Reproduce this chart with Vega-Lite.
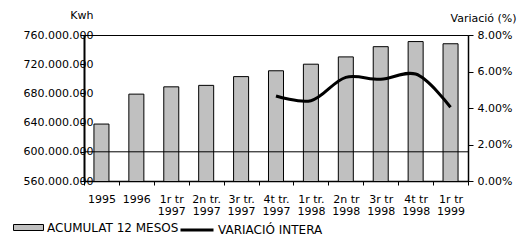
{
  "$schema": "https://vega.github.io/schema/vega-lite/v6.json",
  "width": 384,
  "height": 146,
  "autosize": {"type": "none"},
  "padding": {"left": 84, "top": 35, "right": 53, "bottom": 71},
  "config": {
    "font": "DejaVu Sans",
    "view": {"stroke": "black", "strokeWidth": 1},
    "axis": {"domainColor": "black", "tickColor": "black", "labelColor": "black", "titleColor": "black", "titleFontWeight": "normal", "grid": false, "labelFont": "DejaVu Sans", "titleFont": "DejaVu Sans"},
    "legend": {"labelColor": "black", "labelFont": "DejaVu Sans"}
  },
  "datasets": {
    "series": [
      {"cat": "1995", "kwh": 638000000, "var": null},
      {"cat": "1996", "kwh": 679000000, "var": null},
      {"cat": "1r tr|1997", "kwh": 689000000, "var": null},
      {"cat": "2n tr.|1997", "kwh": 691000000, "var": null},
      {"cat": "3r tr.|1997", "kwh": 703000000, "var": null},
      {"cat": "4t tr.|1997", "kwh": 711000000, "var": 4.66},
      {"cat": "1r tr.|1998", "kwh": 720000000, "var": 4.40},
      {"cat": "2n tr|1998", "kwh": 730000000, "var": 5.68},
      {"cat": "3r tr|1998", "kwh": 744000000, "var": 5.57},
      {"cat": "4t tr|1998", "kwh": 751000000, "var": 5.86},
      {"cat": "1r tr|1999", "kwh": 748000000, "var": 4.04}
    ],
    "grid": [
      {"kwh": 600000000}
    ]
  },
  "layer": [
    {
      "data": {"name": "series"},
      "mark": {"type": "bar", "width": {"band": 0.43}, "stroke": "black", "strokeWidth": 1, "clip": true},
      "encoding": {
        "x": {
          "field": "cat", "type": "nominal", "sort": null,
          "scale": {"paddingInner": 0, "paddingOuter": 0},
          "axis": {
            "title": null, "labelAngle": 0, "tickBand": "extent", "tickSize": 4,
            "labelExpr": "split(datum.label, '|')", "labelPadding": 8, "labelFontSize": 11,
            "labelLineHeight": 12, "labelOverlap": false, "labelBound": false, "domainWidth": 1.5
          }
        },
        "y": {
          "field": "kwh", "type": "quantitative",
          "scale": {"domain": [560000000, 760000000], "zero": false, "nice": false},
          "axis": {
            "values": [560000000, 600000000, 640000000, 680000000, 720000000, 760000000],
            "labelExpr": "replace(format(datum.value, ',d'), regexp(',', 'g'), '.')",
            "tickSize": 4, "labelPadding": -13, "labelFontSize": 11, "domainWidth": 2,
            "title": "Kwh", "titleAngle": 0, "titleX": 9, "titleY": -20,
            "titleAlign": "right", "titleBaseline": "middle", "titleFontSize": 11
          }
        },
        "fill": {
          "datum": "ACUMULAT 12 MESOS",
          "scale": {"range": ["#c0c0c0"]},
          "legend": {
            "orient": "none", "legendX": -71, "legendY": 177, "title": null, "padding": 0,
            "symbolType": "M-1,-0.2H1V0.2H-1Z", "symbolSize": 900,
            "symbolStrokeColor": "black", "symbolStrokeWidth": 1,
            "labelFontSize": 12, "labelOffset": 3, "labelLimit": 400
          }
        }
      }
    },
    {
      "data": {"name": "grid"},
      "mark": {"type": "rule", "color": "black", "strokeWidth": 1},
      "encoding": {
        "y": {"field": "kwh", "type": "quantitative", "scale": {"domain": [560000000, 760000000], "zero": false, "nice": false}, "axis": null}
      }
    },
    {
      "data": {"name": "series"},
      "mark": {"type": "line", "interpolate": "catmull-rom", "strokeWidth": 3},
      "encoding": {
        "x": {
          "field": "cat", "type": "nominal", "sort": null,
          "scale": {"paddingInner": 0, "paddingOuter": 0},
          "axis": {
            "title": null, "labelAngle": 0, "tickBand": "extent", "tickSize": 4,
            "labelExpr": "split(datum.label, '|')", "labelPadding": 8, "labelFontSize": 11,
            "labelLineHeight": 12, "labelOverlap": false, "labelBound": false, "domainWidth": 1.5
          }
        },
        "y": {
          "field": "var", "type": "quantitative",
          "scale": {"domain": [0, 8], "nice": false},
          "axis": {
            "orient": "right", "values": [0, 2, 4, 6, 8],
            "labelExpr": "format(datum.value, '.2f') + '%'",
            "tickSize": 5, "labelPadding": 4, "labelFontSize": 11, "domainWidth": 1.5,
            "title": "Variació (%)", "titleAngle": 0, "titleX": -18, "titleY": -17,
            "titleAlign": "left", "titleBaseline": "middle", "titleFontSize": 11
          }
        },
        "stroke": {
          "datum": "VARIACIÓ INTERA",
          "scale": {"range": ["black"]},
          "legend": {
            "orient": "none", "legendX": 95, "legendY": 177, "title": null, "padding": 0,
            "symbolType": "stroke", "symbolSize": 1089, "symbolStrokeWidth": 3,
            "labelFontSize": 12, "labelOffset": 3, "labelLimit": 400
          }
        }
      }
    }
  ],
  "resolve": {"scale": {"y": "independent", "fill": "independent", "stroke": "independent"}}
}
